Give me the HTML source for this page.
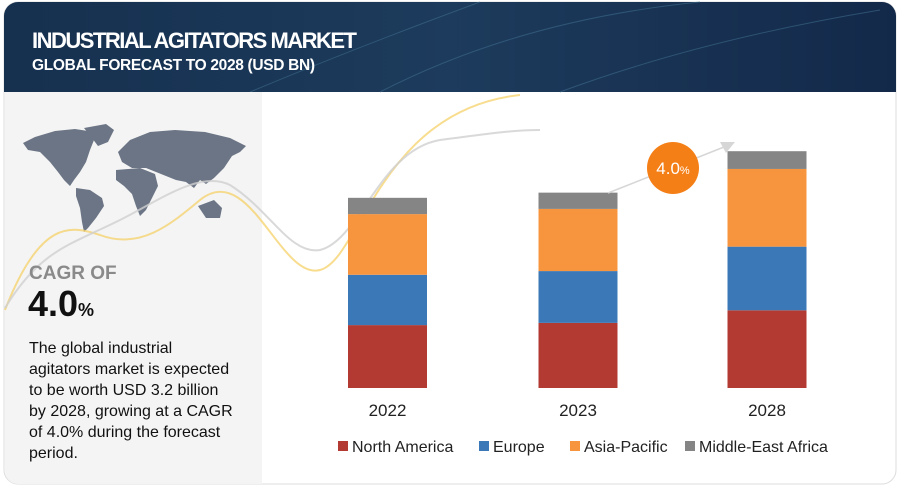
<!DOCTYPE html>
<html><head><meta charset="utf-8"><style>
body{margin:0;width:900px;height:486px;background:#fff;overflow:hidden;font-family:"Liberation Sans",sans-serif}
</style></head><body>
<svg width="900" height="486" viewBox="0 0 900 486" xmlns="http://www.w3.org/2000/svg">
<defs>
<linearGradient id="hdr" x1="0" y1="0" x2="1" y2="0"><stop offset="0" stop-color="#16304f"/><stop offset="0.5" stop-color="#1d3b5c"/><stop offset="1" stop-color="#13294a"/></linearGradient>
</defs>
<rect x="4" y="2" width="892" height="482" rx="14" fill="#fff" stroke="#ddd"/>
<path d="M4 92 V16 A14 14 0 0 1 18 2 H882 A14 14 0 0 1 896 16 V92 Z" fill="url(#hdr)"/>
<path d="M380 92 Q520 20 700 2 M560 92 Q700 40 880 10 M250 92 Q350 50 480 2" stroke="#3d6a8a" stroke-width="1" fill="none" opacity="0.6"/>
<text x="32" y="48" font-family="Liberation Sans Narrow, Liberation Sans, sans-serif" font-weight="bold" font-size="22" fill="#fff" textLength="325">INDUSTRIAL AGITATORS MARKET</text>
<text x="32" y="70" font-family="Liberation Sans Narrow, Liberation Sans, sans-serif" font-weight="bold" font-size="15.5" fill="#fff" textLength="283">GLOBAL FORECAST TO 2028 (USD BN)</text>
<path d="M5 92 H262 V484 H18 A13 13 0 0 1 5 471 Z" fill="#f4f4f4"/>
<g fill="#6b7585">
<path d="M23 143 L35 137 L55 131 L75 129 L88 131 L94 140 L90 150 L86 162 L80 172 L74 180 L70 186 L64 180 L58 172 L50 162 L40 152 L28 150 Z"/>
<path d="M84 128 L106 124 L114 130 L108 142 L98 146 L92 138 Z"/>
<path d="M76 188 L90 190 L102 198 L104 206 L96 218 L88 228 L84 232 L82 222 L80 208 L76 196 Z"/>
<path d="M118 152 L130 140 L150 132 L175 130 L205 132 L230 138 L246 146 L240 152 L232 156 L224 168 L214 178 L206 184 L200 180 L194 188 L186 182 L176 180 L166 176 L156 172 L146 168 L132 168 L122 162 Z"/>
<path d="M116 170 L140 168 L155 174 L158 186 L152 198 L146 210 L140 216 L136 206 L132 194 L124 186 L116 180 Z"/>
<path d="M198 206 L214 200 L222 208 L220 218 L206 218 Z"/>
</g>
<path d="M5 310 C40 220 70 225 100 235 C140 250 170 225 200 200 C250 160 280 280 320 270 C360 260 380 110 520 95" stroke="#f5d26a" stroke-width="2" fill="none" opacity="0.75"/>
<path d="M5 308 C40 250 70 245 120 220 C160 200 200 170 230 185 C270 210 290 255 320 250 C360 240 380 150 440 140 C480 135 510 130 540 130" stroke="#cfcfcf" stroke-width="2" fill="none" opacity="0.8"/>
<text x="29" y="279" font-family="Liberation Sans Narrow, Liberation Sans, sans-serif" font-weight="bold" font-size="19" fill="#8a8a8a">CAGR OF</text>
<text x="28" y="316" font-weight="bold" font-size="36" fill="#111">4.0<tspan font-size="18">%</tspan></text>
<g font-size="16" fill="#111">
<text x="29" y="353">The global industrial</text>
<text x="29" y="374">agitators market is expected</text>
<text x="29" y="395">to be worth USD 3.2 billion</text>
<text x="29" y="416">by 2028, growing at a CAGR</text>
<text x="29" y="437">of 4.0% during the forecast</text>
<text x="29" y="458">period.</text>
</g>
<g id="bars"></g>
<line x1="608" y1="193" x2="724" y2="147" stroke="#d6d6d6" stroke-width="1.5"/>
<polygon points="735,142 720,142 726,153" fill="#d6d6d6"/>
<circle cx="673" cy="168" r="26" fill="#f57f17"/>
<text x="673" y="174" text-anchor="middle" font-size="17" fill="#fff">4.0<tspan font-size="11">%</tspan></text>
<g id="legend" font-size="16" fill="#222"></g>
</svg>
<script>
const categories = ["2022", "2023", "2028"];
const seriesNames = ["North America", "Europe", "Asia-Pacific", "Middle-East Africa"];
const northAmerica = [0.85, 0.88, 1.05];
const europe = [0.68, 0.70, 0.86];
const asiaPacific = [0.82, 0.84, 1.05];
const middleEastAfrica = [0.22, 0.22, 0.24];
const colors = ["#b33a32", "#3b78b8", "#f7953f", "#858585"];
const NS = "http://www.w3.org/2000/svg";
const baseY = 388, pxPerUnit = 74, barW = 79;
const xCenter = i => [387.5, 578, 767][i];
const yScale = v => v * pxPerUnit;
const series = [northAmerica, europe, asiaPacific, middleEastAfrica];
const g = document.getElementById("bars");
categories.forEach((c, i) => {
  let y = baseY;
  series.forEach((s, k) => {
    const h = yScale(s[i]);
    y -= h;
    const r = document.createElementNS(NS, "rect");
    r.setAttribute("x", xCenter(i) - barW / 2);
    r.setAttribute("y", y);
    r.setAttribute("width", barW);
    r.setAttribute("height", h);
    r.setAttribute("fill", colors[k]);
    
    
    g.appendChild(r);
  });
  const t = document.createElementNS(NS, "text");
  t.setAttribute("x", xCenter(i));
  t.setAttribute("y", 416);
  t.setAttribute("text-anchor", "middle");
  t.setAttribute("font-size", "17");
  t.setAttribute("fill", "#222");
  t.textContent = c;
  
  
  g.appendChild(t);
});
const lg = document.getElementById("legend");
const lx = [338, 479, 570, 685];
seriesNames.forEach((n, k) => {
  const e = document.createElementNS(NS, "g");
  
  
  const r = document.createElementNS(NS, "rect");
  r.setAttribute("x", lx[k]); r.setAttribute("y", 441);
  r.setAttribute("width", 10); r.setAttribute("height", 10);
  r.setAttribute("fill", colors[k]);
  const t = document.createElementNS(NS, "text");
  t.setAttribute("x", lx[k] + 14); t.setAttribute("y", 452);
  t.textContent = n;
  e.appendChild(r); e.appendChild(t);
  lg.appendChild(e);
});
</script>
</body></html>
